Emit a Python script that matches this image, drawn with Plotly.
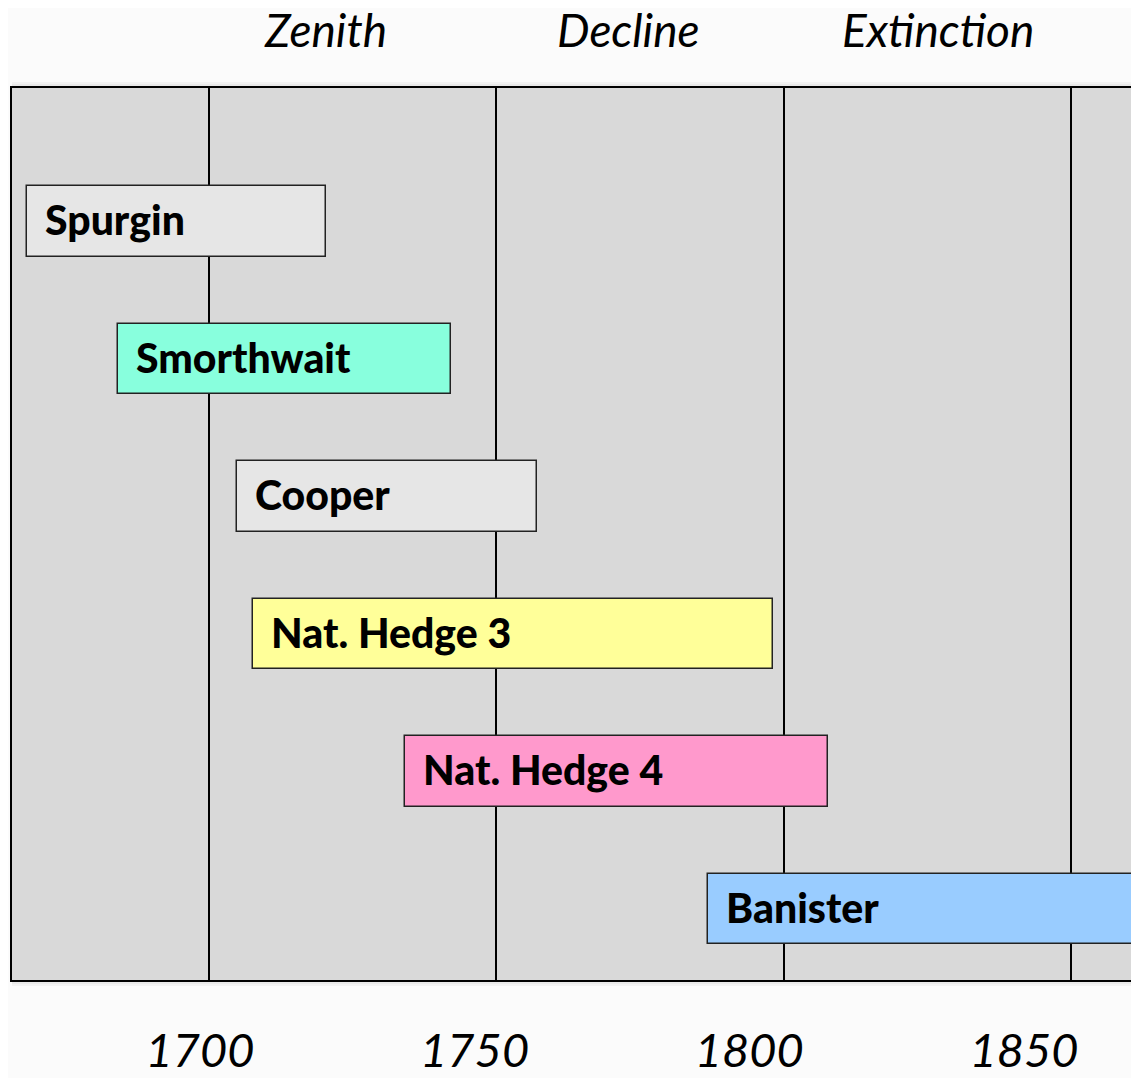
import plotly.graph_objects as go

names = ["Spurgin", "Smorthwait", "Cooper", "Nat. Hedge 3", "Nat. Hedge 4", "Banister"]
starts = [1668.3, 1684.2, 1704.9, 1707.7, 1734.1, 1786.8]
ends = [1720.3, 1742.1, 1757.0, 1798.1, 1807.7, 1875.0]
colors = ["#e6e6e6", "#88ffdd", "#e6e6e6", "#ffff99", "#ff99cc", "#99ccff"]
year_ticks = [1700, 1750, 1800, 1850]
phase_labels = ["Zenith", "Decline", "Extinction"]
phase_centers = [1720.3, 1773.0, 1826.8]

FONT = "Lato"
rows = list(range(len(names)))

fig = go.Figure()
fig.add_trace(go.Bar(
    y=rows, x=[e - s for s, e in zip(starts, ends)], base=starts,
    orientation="h", width=0.51,
    marker=dict(color=colors, line=dict(color="#222222", width=1.5)),
    hoverinfo="skip", showlegend=False,
))
# invisible trace carrying the year tick axis
fig.add_trace(go.Scatter(x=[year_ticks[0]], y=[0], xaxis="x2", mode="markers",
                         marker=dict(opacity=0), showlegend=False, hoverinfo="skip"))

for n, s, r in zip(names, starts, rows):
    fig.add_annotation(x=s, y=r, text=n, showarrow=False,
                       xanchor="left", xshift=16, yshift=2,
                       font=dict(family=FONT, size=41, color="black", weight=900))

for lab, c in zip(phase_labels, phase_centers):
    fig.add_annotation(x=c, y=1.0, yref="paper", yanchor="bottom", yshift=29,
                       text=lab, showarrow=False,
                       font=dict(family=FONT, size=46, color="black", style="italic"))

# soft shadow around the plot frame
for k in (2, 4, 6):
    fig.add_shape(type="rect", xref="paper", yref="paper", x0=0, x1=1,
                  ysizemode="pixel", yanchor=1, y0=0, y1=k,
                  fillcolor="rgba(0,0,0,0.035)", line_width=0, layer="below")
    fig.add_shape(type="rect", xref="paper", yref="paper", x0=0, x1=1,
                  ysizemode="pixel", yanchor=0, y0=0, y1=-k,
                  fillcolor="rgba(0,0,0,0.035)", line_width=0, layer="below")

fig.update_layout(
    width=1131, height=1070,
    margin=dict(l=4, r=0, t=80, b=98, autoexpand=False),
    paper_bgcolor="#fbfbfb", plot_bgcolor="#d9d9d9",
    bargap=0,
    xaxis=dict(range=[1665.75, 1861.75], tickvals=year_ticks, showticklabels=False,
               showgrid=True, gridcolor="black", gridwidth=1.5, zeroline=False,
               showline=True, mirror=True, linecolor="black", linewidth=2, ticks="",
               automargin=False),
    xaxis2=dict(range=[1665.78, 1870.95], overlaying="x", anchor="y", side="bottom",
                tickvals=year_ticks, ticktext=[str(v) for v in year_ticks],
                showgrid=False, zeroline=False, ticks="", ticklabelstandoff=39,
                automargin=False,
                tickfont=dict(family=FONT, size=47, color="black", style="italic")),
    yaxis=dict(range=[5.516, -0.971], showticklabels=False, showgrid=False,
               zeroline=False, showline=True, linecolor="black", linewidth=2, ticks="",
               automargin=False),
)

fig.write_html("out.html")
